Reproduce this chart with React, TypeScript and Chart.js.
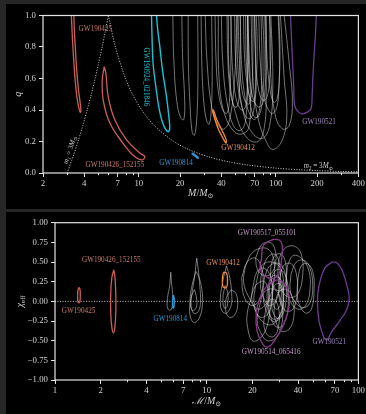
import React, { useEffect, useRef } from "react";
import { Chart, registerables } from "chart.js";

Chart.register(...registerables);

type P = [number, number];

const SERIF = '"Liberation Serif", "DejaVu Serif", serif';
const AXIS = "#e4e4e4";
const TICK_TXT = "#d2d2d2";
const GRAY = "rgba(215,215,215,0.6)";
const SALMON = "#cc5f5a";
const SALMON_TXT = "#c7796c";
const CYAN = "#19c3d6";
const BLUE = "#2f95d0";
const ORANGE = "#f08a3c";
const ORANGE_TXT = "#e8925a";
const PURPLE = "#6b3c8f";
const PURPLE_TXT = "#9c86b8";
const MAGENTA = "#8a3a8c";
const MAGENTA_TXT = "#c49cc6";
const DOTS = "#cfcfcf";

// ---------- upper panel: total mass M vs mass ratio q ----------
const massTicks = [2, 4, 7, 10, 20, 40, 70, 100, 200, 400];
const massMinorTicks = [3, 5, 6, 8, 9, 30, 50, 60, 80, 90, 300];
const qTicks = [0, 0.2, 0.4, 0.6, 0.8, 1.0];

// m1 = 3 Msun and m2 = 3 Msun boundaries
const m1Boundary: P[] = [[3, 0], [3.3, 0.1], [3.6, 0.2], [3.9, 0.3], [4.2, 0.4], [4.5, 0.5], [4.8, 0.6], [5.1, 0.7], [5.4, 0.8], [5.7, 0.9], [6, 1]];
const m2Boundary: P[] = [[6, 1], [6.75, 0.8], [8, 0.6], [9, 0.5], [10.5, 0.4], [13, 0.3], [18, 0.2], [23, 0.15], [33, 0.1], [45.9, 0.07], [63, 0.05], [103, 0.03], [153, 0.02], [203, 0.015], [303, 0.01], [403, 0.0075]];

const gw190425Mq: P[] = [[3.22, 1], [3.28, 0.85], [3.36, 0.7], [3.44, 0.58], [3.55, 0.47], [3.66, 0.41], [3.74, 0.385], [3.78, 0.395], [3.74, 0.44], [3.62, 0.54], [3.52, 0.66], [3.44, 0.8], [3.38, 0.92], [3.36, 1]];
const gw190426Mq: P[] = [[5.59, 0.675], [5.41, 0.59], [5.5, 0.463], [6.15, 0.317], [7.65, 0.19], [9.05, 0.114], [10.47, 0.083], [11.07, 0.103], [10.17, 0.127], [8.14, 0.21], [6.69, 0.337], [5.98, 0.484], [5.75, 0.635], [5.59, 0.675]];
const gw190924Mq: P[] = [[12.38, 1], [12.5, 0.85], [12.7, 0.7], [13.3, 0.55], [14.2, 0.39], [15.2, 0.3], [16.3, 0.262], [16.8, 0.28], [16.6, 0.35], [15.9, 0.49], [14.9, 0.65], [14.2, 0.81], [13.7, 0.92], [13.46, 1]];
const gw190814Mq: P[] = [[24.6, 0.128], [25.8, 0.114], [27.0, 0.1], [27.1, 0.094], [25.8, 0.106], [24.6, 0.12], [24.6, 0.128]];
const gw190412Mq: P[] = [[34.5, 0.4], [35.5, 0.355], [38, 0.28], [41.5, 0.215], [43.3, 0.19], [43.2, 0.215], [40.5, 0.27], [37, 0.34], [35, 0.4], [34.5, 0.4]];
const gw190521Mq: P[] = [[128, 1], [130, 0.85], [132.5, 0.7], [135, 0.55], [137, 0.43], [145, 0.39], [157, 0.376], [172, 0.39], [181, 0.41], [184, 0.5], [186, 0.6], [190, 0.75], [195, 0.9], [197, 1]];

const otherEventsMq: P[][] = [
  [[17.7, 1], [18.0, 0.72], [18.9, 0.46], [20.2, 0.35], [21.3, 0.34], [21.6, 0.46], [20.9, 0.72], [20.6, 1]],
  [[22.9, 1], [23.0, 0.7], [23.6, 0.45], [24.5, 0.26], [25.5, 0.24], [26.5, 0.35], [27.0, 0.6], [26.9, 1]],
  [[28.5, 1], [28.8, 0.7], [29.8, 0.45], [31.3, 0.33], [32.6, 0.31], [33.8, 0.4], [34.3, 0.65], [34.0, 1]],
  [[30.5, 1], [31.5, 0.7], [34, 0.42], [38, 0.3], [42, 0.28], [46, 0.34], [50, 0.6], [52, 1]],
  [[36, 1], [36.5, 0.75], [38, 0.52], [41, 0.4], [44, 0.38], [46, 0.48], [47, 0.75], [47, 1]],
  [[40, 1], [41, 0.7], [44, 0.45], [49, 0.3], [55, 0.27], [60, 0.33], [62, 0.6], [62, 1]],
  [[44, 1], [44.5, 0.75], [46, 0.55], [49, 0.43], [52, 0.42], [54, 0.5], [55, 0.75], [55, 1]],
  [[47, 1], [48, 0.7], [51, 0.48], [56, 0.4], [60, 0.42], [62, 0.55], [63, 0.8], [63, 1]],
  [[50, 1], [51, 0.7], [54, 0.5], [60, 0.36], [66, 0.35], [70, 0.45], [71, 0.7], [70, 1]],
  [[53, 1], [54, 0.75], [56, 0.55], [60, 0.45], [64, 0.44], [67, 0.55], [68, 0.8], [68, 1]],
  [[55, 1], [56, 0.72], [59, 0.5], [64, 0.38], [70, 0.34], [76, 0.4], [79, 0.65], [78, 1]],
  [[58, 1], [59, 0.75], [62, 0.55], [66, 0.46], [70, 0.46], [72, 0.58], [73, 0.8], [72, 1]],
  [[60, 1], [61, 0.7], [64, 0.48], [69, 0.36], [75, 0.36], [80, 0.48], [82, 0.75], [80, 1]],
  [[52, 1], [53, 0.65], [58, 0.38], [68, 0.25], [80, 0.22], [90, 0.3], [95, 0.55], [92, 1]],
  [[62, 1], [63, 0.72], [67, 0.5], [74, 0.42], [80, 0.44], [84, 0.58], [85, 0.8], [84, 1]],
  [[45, 1], [46, 0.6], [52, 0.35], [62, 0.22], [74, 0.2], [82, 0.28], [85, 0.5], [83, 1]],
  [[66, 1], [68, 0.6], [74, 0.35], [85, 0.2], [95, 0.15], [110, 0.2], [120, 0.35], [115, 0.6], [108, 1]],
  [[70, 1], [71, 0.75], [74, 0.55], [80, 0.46], [86, 0.48], [90, 0.6], [92, 0.8], [90, 1]],
  [[75, 1], [77, 0.7], [82, 0.48], [92, 0.38], [100, 0.4], [105, 0.52], [106, 0.75], [104, 1]],
  [[85, 1], [86, 0.75], [90, 0.55], [96, 0.45], [102, 0.47], [106, 0.6], [107, 0.8], [105, 1]],
  [[38, 1], [38.5, 0.6], [42, 0.38], [50, 0.26], [58, 0.25], [64, 0.3], [65, 0.55], [62, 1]],
  [[90, 1], [92, 0.6], [100, 0.35], [112, 0.28], [125, 0.3], [132, 0.45], [125, 0.7], [115, 1]],
];

// ---------- lower panel: chirp mass vs effective spin ----------
const chirpTicks = [1, 2, 4, 7, 10, 20, 40, 70, 100];
const chirpMinorTicks = [3, 5, 6, 8, 9, 30, 50, 60, 80, 90];
const chiTicks = [-1, -0.75, -0.5, -0.25, 0, 0.25, 0.5, 0.75, 1];
const zeroSpin: P[] = [[1, 0], [100, 0]];

const gw190425Chi: P[] = [[1.445, 0.178], [1.42, 0.15], [1.41, 0.08], [1.415, 0.0], [1.44, -0.02], [1.46, 0.0], [1.468, 0.08], [1.462, 0.15], [1.445, 0.178]];
const gw190426Chi: P[] = [[2.44, 0.4], [2.37, 0.3], [2.33, 0.1], [2.33, -0.15], [2.37, -0.33], [2.43, -0.4], [2.48, -0.33], [2.52, -0.1], [2.51, 0.15], [2.48, 0.32], [2.44, 0.4]];
const gw190814Chi: P[] = [[6.04, 0.08], [5.96, 0.03], [5.95, -0.05], [6.02, -0.09], [6.1, -0.05], [6.11, 0.03], [6.04, 0.08]];
const gw190412Chi: P[] = [[12.9, 0.37], [12.7, 0.3], [12.75, 0.2], [13.1, 0.17], [13.6, 0.19], [13.7, 0.28], [13.5, 0.36], [12.9, 0.37]];
const gw190517Chi: P[] = [[23, 0.55], [23.5, 0.7], [26, 0.77], [30, 0.78], [31.5, 0.7], [31, 0.5], [30, 0.35], [27, 0.29], [24, 0.33], [22.5, 0.42], [23, 0.55]];
const gw190514Chi: P[] = [[28.5, 0.27], [25, 0.2], [22.5, 0.05], [21.2, -0.15], [21.5, -0.38], [23.5, -0.55], [25.5, -0.58], [28, -0.5], [32, -0.3], [35, -0.05], [34, 0.15], [31, 0.26], [28.5, 0.27]];
const gw190521Chi: P[] = [[67, 0.5], [60, 0.42], [55, 0.2], [53.7, 0.0], [55, -0.25], [59, -0.45], [62, -0.49], [66, -0.4], [75, -0.25], [84, -0.1], [87, 0.05], [84, 0.2], [78, 0.4], [72, 0.49], [67, 0.5]];

const otherEventsChi: P[][] = [
  [[5.8, 0.37], [5.7, 0.2], [5.52, 0.05], [5.48, -0.05], [5.62, -0.11], [5.85, -0.1], [5.98, 0.0], [5.95, 0.12], [5.85, 0.25], [5.8, 0.37]],
  [[8.6, 0.55], [8.3, 0.3], [8.0, 0.1], [7.9, -0.05], [8.2, -0.15], [8.8, -0.13], [9.1, 0.0], [9.0, 0.2], [8.8, 0.4], [8.6, 0.55]],
  [[8.5, 0.38], [8.0, 0.2], [7.75, 0.0], [7.8, -0.2], [8.3, -0.27], [9.0, -0.2], [9.4, 0.0], [9.2, 0.2], [8.8, 0.33], [8.5, 0.38]],
  [[8.3, 0.15], [7.9, 0.05], [7.85, -0.08], [8.2, -0.12], [8.6, -0.05], [8.5, 0.08], [8.3, 0.15]],
  [[13.5, 0.45], [12.6, 0.2], [12.3, 0.0], [12.6, -0.12], [13.5, -0.15], [14.5, -0.05], [14.6, 0.1], [14.2, 0.3], [13.5, 0.45]],
  [[14.5, 0.15], [13.5, 0.05], [13.3, -0.1], [14, -0.2], [15.2, -0.18], [16, -0.05], [15.6, 0.1], [14.5, 0.15]],
  [[13.2, 0.2], [12.8, 0.05], [13.0, -0.08], [13.6, -0.07], [13.8, 0.1], [13.2, 0.2]],
  [[18, 0.45], [20, 0.62], [24, 0.68], [27, 0.6], [28, 0.35], [26, 0.05], [22, -0.1], [19, 0.05], [17.5, 0.25], [18, 0.45]],
  [[21, 0.2], [23, 0.45], [27, 0.5], [31, 0.4], [32, 0.1], [30, -0.2], [26, -0.3], [22, -0.2], [20.5, 0.0], [21, 0.2]],
  [[24, 0.3], [26, 0.45], [30, 0.48], [33, 0.35], [33.5, 0.05], [31, -0.2], [27, -0.25], [24.5, -0.1], [23.5, 0.1], [24, 0.3]],
  [[30, 0.55], [33, 0.68], [38, 0.7], [42, 0.6], [43, 0.35], [40, 0.1], [35, 0.05], [31, 0.15], [29.5, 0.35], [30, 0.55]],
  [[34, 0.45], [37, 0.58], [42, 0.55], [47, 0.4], [48, 0.15], [45, -0.05], [40, -0.1], [35.5, 0.0], [33.5, 0.2], [34, 0.45]],
  [[22, -0.1], [24, 0.12], [28, 0.15], [31, 0.0], [31.5, -0.25], [29, -0.45], [25, -0.5], [22.5, -0.38], [21.5, -0.25], [22, -0.1]],
  [[19, -0.05], [21, 0.2], [24, 0.25], [26, 0.05], [25.5, -0.25], [23, -0.45], [20, -0.5], [18.5, -0.3], [18.5, -0.15], [19, -0.05]],
  [[26, 0.2], [28, 0.38], [31, 0.4], [34, 0.25], [34.5, -0.05], [32, -0.3], [28.5, -0.32], [26, -0.15], [25.5, 0.0], [26, 0.2]],
  [[27, 0.05], [28, 0.2], [30.5, 0.22], [32, 0.05], [31.5, -0.15], [29.5, -0.22], [27.5, -0.15], [26.8, -0.05], [27, 0.05]],
  [[23, 0.35], [25, 0.55], [28, 0.6], [30, 0.5], [30.5, 0.25], [28.5, 0.0], [25.5, -0.05], [23.2, 0.1], [22.6, 0.22], [23, 0.35]],
  [[36, 0.35], [39, 0.5], [44, 0.52], [48, 0.42], [50, 0.2], [48, -0.02], [43, -0.08], [38, 0.0], [35.5, 0.15], [36, 0.35]],
  [[40, 0.3], [42, 0.45], [46, 0.48], [50, 0.38], [51, 0.15], [49, -0.1], [45, -0.15], [41, -0.05], [39.5, 0.1], [40, 0.3]],
  [[20, 0.15], [21.5, 0.38], [24, 0.42], [26.5, 0.3], [27, 0.05], [25.5, -0.15], [22.5, -0.2], [20.3, -0.05], [19.8, 0.05], [20, 0.15]],
  [[28, -0.05], [30, 0.12], [34, 0.15], [37, 0.02], [37.5, -0.2], [35, -0.35], [31, -0.38], [28.5, -0.25], [27.8, -0.15], [28, -0.05]],
  [[25, 0.1], [26.5, 0.3], [29, 0.33], [31.5, 0.22], [32, -0.02], [30, -0.2], [27, -0.22], [25.2, -0.08], [25, 0.1]],
  [[17, 0.3], [18.5, 0.5], [21, 0.55], [23, 0.42], [23.5, 0.2], [22, 0.0], [19.5, -0.05], [17.5, 0.08], [17, 0.3]],
  [[24, -0.2], [25.5, 0.0], [28, 0.02], [30, -0.12], [29.5, -0.35], [27.5, -0.45], [25, -0.42], [23.8, -0.3], [24, -0.2]],
  [[30, 0.25], [32, 0.45], [36, 0.48], [39, 0.35], [39.5, 0.1], [37, -0.1], [33, -0.12], [30.5, 0.0], [29.8, 0.12], [30, 0.25]],
  [[26.5, 0.45], [28, 0.58], [31, 0.6], [33, 0.5], [33.5, 0.3], [31.5, 0.15], [28.5, 0.15], [26.5, 0.28], [26.5, 0.45]],
  [[21, 0.55], [23, 0.72], [26, 0.75], [28, 0.68], [28.5, 0.5], [26.5, 0.35], [23.5, 0.33], [21.5, 0.42], [21, 0.55]],
  [[27, 0.15], [28, 0.3], [30, 0.3], [31, 0.15], [30.5, -0.05], [29, -0.1], [27.5, -0.05], [27, 0.15]],
];

// ---------- text ----------
type Run = { t: string; italic?: boolean; sub?: boolean };
type Note = { runs: Run[]; at: P; color: string; rot?: number };

const sunMass: Run[] = [{ t: "M", italic: true }, { t: "\u2299", sub: true }];

const topNotes: Note[] = [
  { runs: [{ t: "GW190425" }], at: [4.82, 0.914], color: SALMON_TXT },
  { runs: [{ t: "GW190426_152155" }], at: [6.69, 0.053], color: SALMON_TXT },
  { runs: [{ t: "GW190924_021846" }], at: [11.2, 0.61], color: CYAN, rot: Math.PI / 2 },
  { runs: [{ t: "GW190814" }], at: [18.7, 0.065], color: BLUE },
  { runs: [{ t: "GW190412" }], at: [52.9, 0.159], color: ORANGE_TXT },
  { runs: [{ t: "GW190521" }], at: [206.5, 0.324], color: PURPLE_TXT },
  { runs: [{ t: "m", italic: true }, { t: "2", sub: true }, { t: " = 3" }, ...sunMass], at: [204, 0.044], color: "#cfcfcf" },
  { runs: [{ t: "m", italic: true }, { t: "1", sub: true }, { t: " = 3" }, ...sunMass], at: [3.15, 0.146], color: "#cfcfcf", rot: -72 * Math.PI / 180 },
];

const bottomNotes: Note[] = [
  { runs: [{ t: "GW190425" }], at: [1.43, -0.12], color: SALMON_TXT },
  { runs: [{ t: "GW190426_152155" }], at: [2.35, 0.525], color: SALMON_TXT },
  { runs: [{ t: "GW190814" }], at: [5.75, -0.22], color: BLUE },
  { runs: [{ t: "GW190412" }], at: [12.8, 0.483], color: ORANGE_TXT },
  { runs: [{ t: "GW190517_055101" }], at: [25, 0.872], color: MAGENTA_TXT },
  { runs: [{ t: "GW190514_065416" }], at: [26.6, -0.648], color: MAGENTA_TXT },
  { runs: [{ t: "GW190521" }], at: [64.2, -0.52], color: PURPLE_TXT },
];

function drawRuns(ctx: CanvasRenderingContext2D, runs: Run[], x: number, y: number, size: number, color: string, rot = 0) {
  ctx.save();
  ctx.translate(x, y);
  ctx.rotate(rot);
  ctx.fillStyle = color;
  ctx.textBaseline = "middle";
  ctx.textAlign = "left";
  const fontOf = (r: Run) => `${r.italic ? "italic " : ""}${r.sub ? size * 0.7 : size}px ${SERIF}`;
  let total = 0;
  const widths = runs.map((r) => {
    ctx.font = fontOf(r);
    const w = ctx.measureText(r.t).width;
    total += w;
    return w;
  });
  let cx = -total / 2;
  runs.forEach((r, i) => {
    ctx.font = fontOf(r);
    ctx.fillText(r.t, cx, r.sub ? size * 0.3 : 0);
    cx += widths[i];
  });
  ctx.restore();
}

const curve = (pts: P[], color: string, width: number, extra: Record<string, unknown> = {}) => ({
  data: pts.map(([x, y]) => ({ x, y })),
  showLine: true,
  borderColor: color,
  backgroundColor: color,
  borderWidth: width,
  pointRadius: 0,
  pointHoverRadius: 0,
  tension: 0.4,
  fill: false,
  ...extra,
});

const dotted = (pts: P[]) => curve(pts, DOTS, 1, { borderDash: [1, 1.6], tension: 0.3 });

type PanelSpec = {
  xMin: number; xMax: number; xTicks: number[]; xMinor: number[];
  yMin: number; yMax: number; yTicks: number[]; yFmt: (v: number) => string;
  yWidth: number; xHeight: number; padTop: number;
  xTitle: Run[]; yTitle: Run[]; xTitleGap: number; yTitleX: number;
  notes: Note[]; datasets: any[];
};

function buildConfig(s: PanelSpec): any {
  const decor = {
    id: "decor",
    afterDraw(chart: any) {
      const { ctx, chartArea: a, scales } = chart;
      ctx.save();
      ctx.strokeStyle = AXIS;
      ctx.lineWidth = 1.2;
      ctx.strokeRect(a.left, a.top, a.right - a.left, a.bottom - a.top);
      ctx.lineWidth = 1;
      for (const v of s.xMinor) {
        const x = Math.round(scales.x.getPixelForValue(v)) + 0.5;
        ctx.beginPath();
        ctx.moveTo(x, a.bottom);
        ctx.lineTo(x, a.bottom + 2.2);
        ctx.stroke();
      }
      ctx.restore();
      drawRuns(ctx, s.xTitle, (a.left + a.right) / 2, a.bottom + s.xTitleGap, 10, TICK_TXT);
      drawRuns(ctx, s.yTitle, s.yTitleX, (a.top + a.bottom) / 2, 10, TICK_TXT, -Math.PI / 2);
      for (const n of s.notes) {
        const px = scales.x.getPixelForValue(n.at[0]);
        const py = scales.y.getPixelForValue(n.at[1]);
        drawRuns(ctx, n.runs, px, py, 7.2, n.color, n.rot ?? 0);
      }
    },
  };

  return {
    type: "scatter",
    data: { datasets: s.datasets },
    plugins: [decor],
    options: {
      animation: false,
      responsive: false,
      events: [],
      layout: { padding: { left: 0, right: 7, top: s.padTop, bottom: 0 } },
      plugins: { legend: { display: false }, tooltip: { enabled: false } },
      scales: {
        x: {
          type: "logarithmic",
          min: s.xMin,
          max: s.xMax,
          afterBuildTicks: (sc: any) => { sc.ticks = s.xTicks.map((value) => ({ value })); },
          afterFit: (sc: any) => { sc.height = s.xHeight; },
          ticks: {
            autoSkip: false, maxRotation: 0, padding: 1, color: TICK_TXT,
            font: { family: SERIF, size: 8.8 },
            callback: (v: number) => String(v),
          },
          grid: { drawOnChartArea: false, color: AXIS, tickLength: 4, tickWidth: 1 },
          border: { display: false },
        },
        y: {
          type: "linear",
          min: s.yMin,
          max: s.yMax,
          afterBuildTicks: (sc: any) => { sc.ticks = s.yTicks.map((value) => ({ value })); },
          afterFit: (sc: any) => { sc.width = s.yWidth; },
          ticks: {
            autoSkip: false, padding: 3, color: TICK_TXT,
            font: { family: SERIF, size: 8.8 },
            callback: (v: number) => s.yFmt(v),
          },
          grid: { drawOnChartArea: false, color: AXIS, tickLength: 4, tickWidth: 1 },
          border: { display: false },
        },
      },
    },
  };
}

const topSpec: PanelSpec = {
  xMin: 2, xMax: 400, xTicks: massTicks, xMinor: massMinorTicks,
  yMin: 0, yMax: 1, yTicks: qTicks, yFmt: (v) => v.toFixed(1),
  yWidth: 37, xHeight: 36, padTop: 11.5,
  xTitle: [{ t: "M", italic: true }, { t: "/" }, ...sunMass],
  yTitle: [{ t: "q", italic: true }],
  xTitleGap: 20, yTitleX: 12.5,
  notes: topNotes,
  datasets: [
    curve(gw190425Mq, SALMON, 1.3),
    curve(gw190426Mq, SALMON, 1.3),
    curve(gw190924Mq, CYAN, 1.4),
    curve(gw190814Mq, BLUE, 1.6),
    curve(gw190412Mq, ORANGE, 1.3),
    curve(gw190521Mq, PURPLE, 1.3),
    dotted(m1Boundary),
    dotted(m2Boundary),
    ...otherEventsMq.map((c) => curve(c, GRAY, 0.9)),
  ],
};

const bottomSpec: PanelSpec = {
  xMin: 1, xMax: 100, xTicks: chirpTicks, xMinor: chirpMinorTicks,
  yMin: -1, yMax: 1, yTicks: chiTicks,
  yFmt: (v) => (v < 0 ? "\u2212" : "") + Math.abs(v).toFixed(2),
  yWidth: 49, xHeight: 34, padTop: 10.7,
  xTitle: [{ t: "\u2133", italic: true }, { t: "/" }, ...sunMass],
  yTitle: [{ t: "\u03c7", italic: true }, { t: "eff", sub: true }],
  xTitleGap: 21.5, yTitleX: 14,
  notes: bottomNotes,
  datasets: [
    curve(gw190425Chi, SALMON, 1.3),
    curve(gw190426Chi, SALMON, 1.3),
    curve(gw190814Chi, BLUE, 1.4, { fill: true }),
    curve(gw190412Chi, ORANGE, 1.3),
    curve(gw190517Chi, MAGENTA, 1.3),
    curve(gw190514Chi, MAGENTA, 1.3),
    curve(gw190521Chi, PURPLE, 1.3),
    dotted(zeroSpin),
    ...otherEventsChi.map((c) => curve(c, GRAY, 0.9)),
  ],
};

export default function App() {
  const topRef = useRef<HTMLCanvasElement>(null);
  const bottomRef = useRef<HTMLCanvasElement>(null);

  useEffect(() => {
    const upper = new Chart(topRef.current!, buildConfig(topSpec));
    const lower = new Chart(bottomRef.current!, buildConfig(bottomSpec));
    return () => {
      upper.destroy();
      lower.destroy();
    };
  }, []);

  return (
    <div style={{ position: "fixed", inset: 0, background: "#262626", overflow: "hidden" }}>
      <div style={{ position: "absolute", left: 6, top: 4, width: 360, height: 205, background: "#000" }}>
        <canvas ref={topRef} width={360} height={205} style={{ display: "block", width: 360, height: 205 }} />
      </div>
      <div style={{ position: "absolute", left: 6, top: 212, width: 360, height: 202, background: "#000" }}>
        <canvas ref={bottomRef} width={360} height={202} style={{ display: "block", width: 360, height: 202 }} />
      </div>
    </div>
  );
}
